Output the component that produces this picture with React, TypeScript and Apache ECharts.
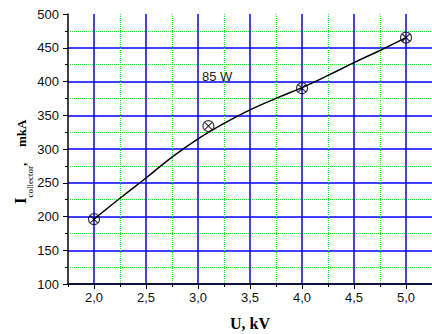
import { useEffect, useRef } from 'react';
import * as echarts from 'echarts';

// Measured points (U in kV, I collector in mkA)
const measuredU = [2.0, 3.1, 4.0, 5.0];
const measuredI = [196, 334, 390, 465];

// Smooth fitted curve
const fitU = [2.0, 2.25, 2.5, 2.75, 3.0, 3.25, 3.5, 3.75, 4.0, 4.25, 4.5, 4.75, 5.0];
const fitI = [196, 227, 257, 288, 315, 338, 358, 375, 391, 409, 428, 446, 465];

const xMajorTicks = [2.0, 2.5, 3.0, 3.5, 4.0, 4.5, 5.0];
const annotation = '85 W';

const BLUE = '#0000ff';
const GREEN = '#22ee22';
const CLEAR = 'rgba(0,0,0,0)';
const SANS = 'Liberation Sans, Arial, sans-serif';
const SERIF = 'Liberation Serif, Times New Roman, serif';

const markerPath =
  'path://M1,12A11,11 0 1 1 23,12A11,11 0 1 1 1,12Z M4.2,4.2L19.8,19.8M19.8,4.2L4.2,19.8';

export default function App() {
  const ref = useRef<HTMLDivElement>(null);
  useEffect(() => {
    if (!ref.current) return;
    const chart = echarts.init(ref.current, undefined, { renderer: 'svg' });
    const fmt = (v: number) =>
      Math.abs(v * 2 - Math.round(v * 2)) < 1e-6 ? v.toFixed(1).replace('.', ',') : '';
    chart.setOption({
      animation: false,
      backgroundColor: '#fff',
      textStyle: { fontFamily: SANS },
      grid: { left: 68, right: 0, top: 14, bottom: 50, containLabel: false, outerBoundsMode: 'none' },
      xAxis: [
        {
          type: 'value',
          min: 1.75,
          max: 5.25,
          interval: 0.5,
          position: 'bottom',
          axisLine: { show: false, onZero: false },
          axisTick: { show: true, length: 3, lineStyle: { color: '#000', width: 1 } },
          axisLabel: { show: false },
          splitLine: {
            show: true,
            showMinLine: false,
            lineStyle: { color: GREEN, width: 1, type: [1, 1] },
          },
        },
        {
          type: 'value',
          min: 1.75,
          max: 5.25,
          interval: 0.25,
          position: 'bottom',
          name: 'U, kV',
          nameLocation: 'middle',
          nameGap: 31,
          nameTextStyle: { fontFamily: SERIF, fontWeight: 'bold', fontSize: 16, color: '#000' },
          axisLine: { show: true, onZero: false, lineStyle: { color: '#000', width: 1.5 } },
          axisTick: { show: true, length: 5, customValues: xMajorTicks, lineStyle: { color: '#000', width: 1 } },
          axisLabel: { show: true, formatter: fmt, customValues: xMajorTicks, color: '#111', fontSize: 13, fontFamily: SANS, margin: 7 },
          splitLine: { show: true, lineStyle: { color: BLUE, width: 1.5, type: 'solid' } },
        },
      ],
      yAxis: {
        type: 'value',
        min: 100,
        max: 500,
        interval: 50,
        axisLine: { show: true, onZero: false, lineStyle: { color: '#000', width: 1.5 } },
        axisTick: { show: true, length: 5, lineStyle: { color: '#000', width: 1 } },
        minorTick: { show: true, splitNumber: 2, length: 3, lineStyle: { color: '#000', width: 1 } },
        axisLabel: { color: '#111', fontSize: 13, fontFamily: SANS, margin: 9 },
        splitLine: {
          show: true,
          showMaxLine: false,
          lineStyle: { color: [BLUE, BLUE, BLUE, BLUE, BLUE, BLUE, BLUE, BLUE, CLEAR], width: 1.5 },
        },
        minorSplitLine: { show: true, lineStyle: { color: GREEN, width: 1, type: [1, 1] } },
      },
      series: [
        {
          type: 'line',
          name: 'fit',
          xAxisIndex: 1,
          data: fitU.map((u, i) => [u, fitI[i]]),
          smooth: 0.4,
          showSymbol: false,
          lineStyle: { color: '#000', width: 1.5 },
          z: 3,
        },
        {
          type: 'scatter',
          name: 'measured',
          xAxisIndex: 1,
          data: measuredU.map((u, i) => [u, measuredI[i]]),
          symbol: markerPath,
          symbolSize: 11,
          itemStyle: { color: CLEAR, borderColor: '#000', borderWidth: 1.2 },
          z: 4,
        },
      ],
      graphic: [
        {
          type: 'text',
          left: 202,
          top: 70,
          style: { text: annotation, font: '13px ' + SANS, fill: '#222' },
          z: 10,
        },
        {
          type: 'group',
          x: 26,
          y: 204,
          rotation: Math.PI / 2,
          children: [
            { type: 'text', x: 0, y: -5.7, style: { text: 'I', font: 'bold 17px ' + SERIF, fill: '#000', textAlign: 'left', textVerticalAlign: 'middle' } },
            { type: 'text', x: 6.5, y: 3.5, style: { text: 'collector', font: '9px ' + SERIF, fill: '#000', textAlign: 'left', textVerticalAlign: 'middle' } },
            { type: 'text', x: 38, y: -4.4, style: { text: ',', font: 'bold 13px ' + SERIF, fill: '#000', textAlign: 'left', textVerticalAlign: 'middle' } },
            { type: 'text', x: 57, y: -4.4, style: { text: 'mkA', font: 'bold 13px ' + SERIF, fill: '#000', textAlign: 'left', textVerticalAlign: 'middle' } },
          ],
        },
      ],
    });
    return () => chart.dispose();
  }, []);
  return (
    <div
      ref={ref}
      style={{ position: 'fixed', left: 0, top: 0, width: 432, height: 334, background: '#fff' }}
    />
  );
}
